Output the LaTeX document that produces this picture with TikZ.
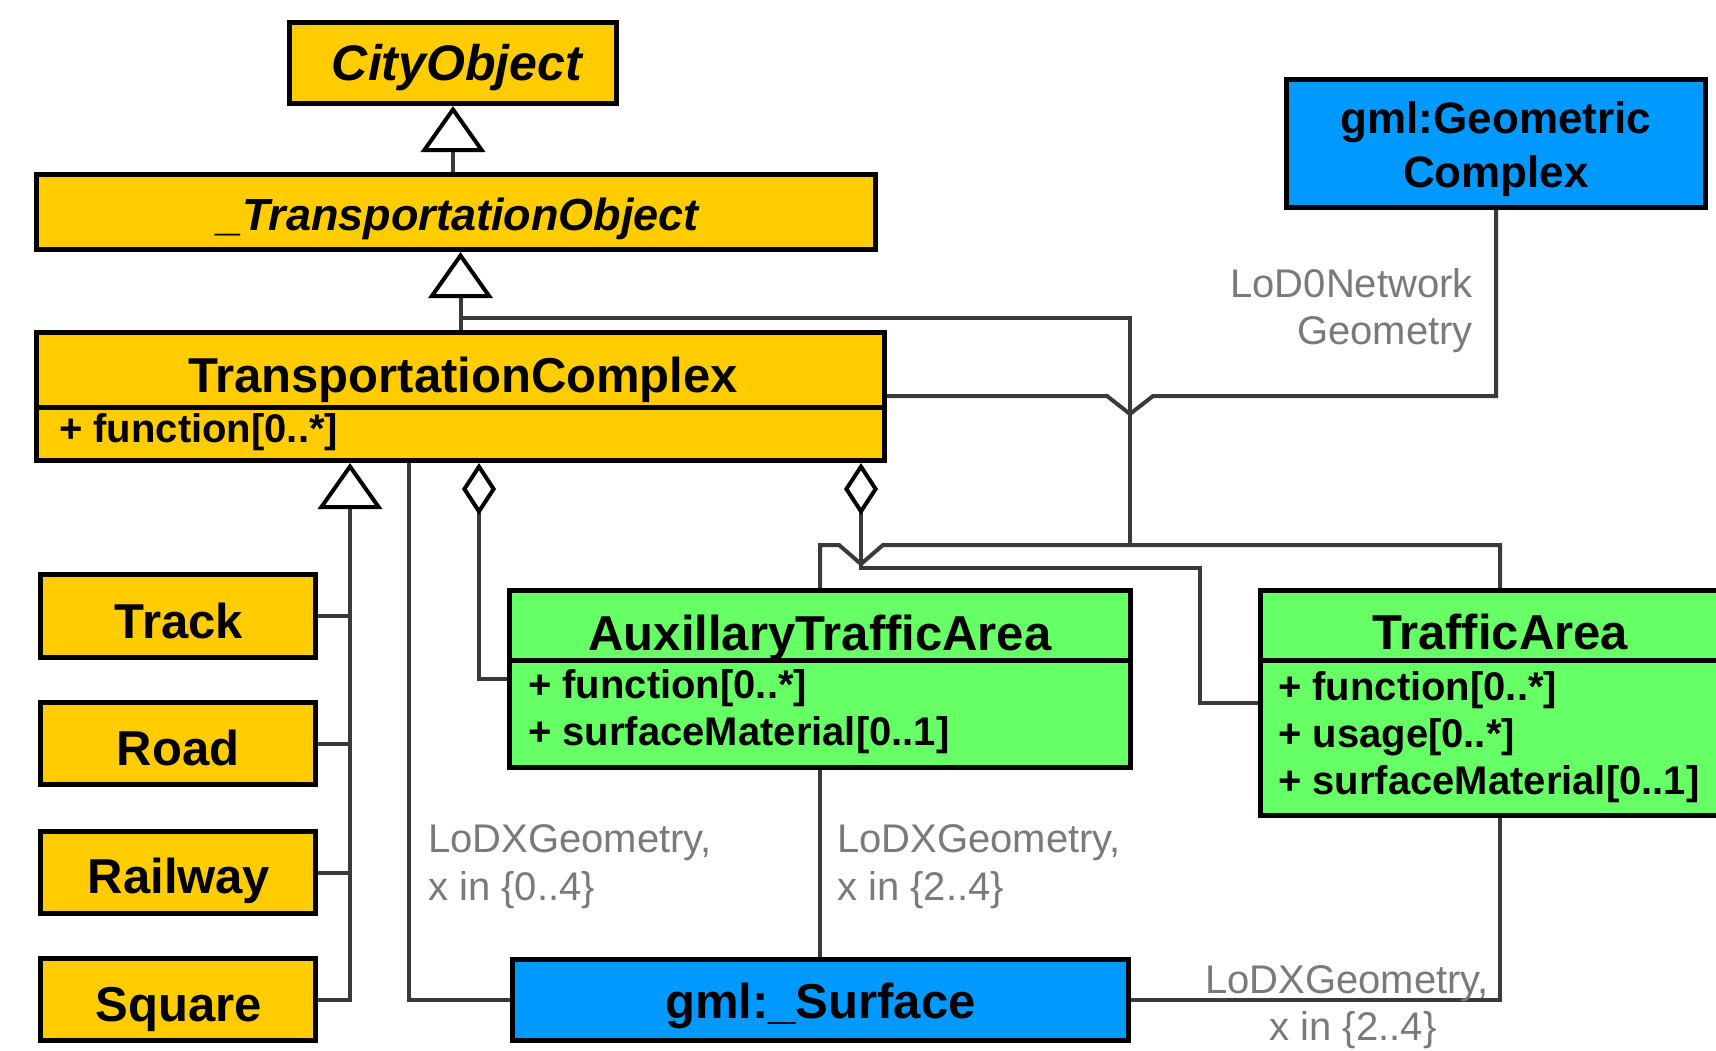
\documentclass[tikz,border=0pt]{standalone}
\usepackage{fontspec}
\setmainfont{Liberation Sans}
\usetikzlibrary{arrows.meta}

\definecolor{clsYellow}{HTML}{FFCC00}
\definecolor{clsGreen}{HTML}{66FF66}
\definecolor{clsBlue}{HTML}{0099FF}
\definecolor{linkGray}{HTML}{3A3A3A}
\definecolor{roleGray}{HTML}{7A7A7A}

% bold face at a given pixel size
\newcommand\namefont[1]{\fontsize{#1}{#1}\selectfont\bfseries}

\begin{document}
\begin{tikzpicture}[x=1pt,y=-1pt,
  box/.style={draw=black,line width=5pt,inner sep=0pt,rectangle},
  yellowbox/.style={box,fill=clsYellow},
  greenbox/.style={box,fill=clsGreen},
  bluebox/.style={box,fill=clsBlue},
  divider/.style={draw=black,line width=5pt},
  clsname/.style={anchor=base,inner sep=0pt,font=\namefont{49}},
  attr/.style={anchor=base west,inner sep=0pt,font=\namefont{40}},
  role/.style={inner sep=0pt,font=\fontsize{40}{48}\selectfont,text=roleGray},
  link/.style={draw=linkGray,line width=4pt},
  genlink/.style={link,-{Triangle[fill=white,color=black,length=46pt,width=64pt,line width=4pt]}},
  complink/.style={link,{Diamond[fill=white,color=black,length=52pt,width=34pt,line width=4pt]}-},
]
\useasboundingbox (0,0) rectangle (1716,1050);
\fill[white] (0,0) rectangle (1716,1050);
\clip (0,0) rectangle (1716,1050);

% ---------- classes ----------
\node[yellowbox,minimum width=327,minimum height=81] (city) at (453,63) {};
\node[clsname,font=\namefont{50}\itshape] (cityname) at (457,80) {CityObject};

\node[yellowbox,minimum width=839,minimum height=75] (to) at (456,212) {};
\node[clsname,font=\namefont{45}\itshape] (toname) at (458,230) {\_TransportationObject};

\node[yellowbox,minimum width=848,minimum height=128] (tc) at (460.5,396.5) {};
\coordinate (tcsep) at (0,407);
\draw[divider] (tc.west |- tcsep) -- (tc.east |- tcsep);
\node[clsname] (tcname) at (463,392) {TransportationComplex};
\node[attr] (tcattr) at (59,442) {+ function[0..*]};

\node[yellowbox,minimum width=275,minimum height=83] (track) at (178,616) {};
\node[clsname] (trackname) at (179,638) {Track};
\node[yellowbox,minimum width=275,minimum height=82] (road) at (178,743.5) {};
\node[clsname] (roadname) at (178,765) {Road};
\node[yellowbox,minimum width=275,minimum height=82] (railway) at (178,872.5) {};
\node[clsname] (railwayname) at (179,893) {Railway};
\node[yellowbox,minimum width=275,minimum height=82] (square) at (178,999.5) {};
\node[clsname] (squarename) at (179,1021) {Square};

\coordinate (areasep) at (0,660);
\node[greenbox,minimum width=621,minimum height=177] (ata) at (820,679) {};
\draw[divider] (ata.west |- areasep) -- (ata.east |- areasep);
\node[clsname] (ataname) at (820,650) {AuxillaryTrafficArea};
\node[attr] (ataattra) at (528,698) {+ function[0..*]};
\node[attr] (ataattrb) at (528,745) {+ surfaceMaterial[0..1]};

\node[greenbox,minimum width=479,minimum height=225] (ta) at (1500,703) {};
\draw[divider] (ta.west |- areasep) -- (ta.east |- areasep);
\node[clsname] (taname) at (1500,649) {TrafficArea};
\node[attr] (taattra) at (1278,700) {+ function[0..*]};
\node[attr] (taattrb) at (1278,747) {+ usage[0..*]};
\node[attr] (taattrc) at (1278,794) {+ surfaceMaterial[0..1]};

\node[bluebox,minimum width=616,minimum height=81] (surf) at (820.5,1000) {};
\node[clsname] (surfname) at (820.5,1018) {gml:\_Surface};

\node[bluebox,minimum width=419,minimum height=128] (geo) at (1496,143.5) {};
\node[clsname,font=\namefont{44}] (geonamea) at (1496,133) {gml:Geometric};
\node[clsname,font=\namefont{44}] (geonameb) at (1496,187) {Complex};

% ---------- generalisations ----------
\draw[genlink] (to.north -| city.south) -- (city.south);
\draw[genlink] (tc.north) -- (tc.north |- to.south);

\coordinate (treex) at (350,0);
\draw[genlink] (square.east) -| (tc.south -| treex);
\draw[link] (track.east) -- (track.east -| treex);
\draw[link] (road.east) -- (road.east -| treex);
\draw[link] (railway.east) -- (railway.east -| treex);

% traffic areas share one generalisation line
\coordinate (busy) at (0,545);
\coordinate (hopA) at (839,545);
\coordinate (hopB) at (861,564);
\coordinate (hopC) at (883,545);
\draw[link] (ata.north) -- (ata.north |- busy) -- (hopA) -- (hopB) -- (hopC)
  -- (ta.north |- busy) -- (ta.north);
\coordinate (riser) at (1130,545);
\coordinate (topbus) at (1130,318);
\draw[link] (riser) -- (topbus) -- (tc.north |- topbus);

% ---------- associations ----------
\coordinate (geoy) at (0,396);
\coordinate (hopD) at (1107,396);
\coordinate (hopE) at (1130,414);
\coordinate (hopF) at (1153,396);
\draw[link] (tc.east |- geoy) -- (hopD) -- (hopE) -- (hopF) -- (geo.south |- geoy) -- (geo.south);
\node[role,anchor=base east] (lodzeroa) at (1473,297) {LoD0Network};
\node[role,anchor=base east] (lodzerob) at (1473,344) {Geometry};

\coordinate (compA) at (479,679);
\draw[complink] (tc.south -| compA) -- (compA) -- (ata.west);
\coordinate (compB) at (861,568);
\coordinate (compC) at (1200,568);
\draw[complink] (tc.south -| compB) -- (compB) -- (compC) -- (compC |- ta.west) -- (ta.west);

\coordinate (geomx) at (409,0);
\draw[link] (tc.south -| geomx) |- (surf.west);
\node[role,anchor=base west] (lodxa) at (428,852) {LoDXGeometry,};
\node[role,anchor=base west] (lodxb) at (428,900) {x in \{0..4\}};

\draw[link] (ata.south) -- (ata.south |- surf.north);
\node[role,anchor=base west] (lodxc) at (837,852) {LoDXGeometry,};
\node[role,anchor=base west] (lodxd) at (837,900) {x in \{2..4\}};

\draw[link] (ta.south) |- (surf.east);
\node[role,anchor=base] (lodxe) at (1347,993) {LoDXGeometry,};
\node[role,anchor=base] (lodxf) at (1353,1040) {x in \{2..4\}};
\end{tikzpicture}
\end{document}
